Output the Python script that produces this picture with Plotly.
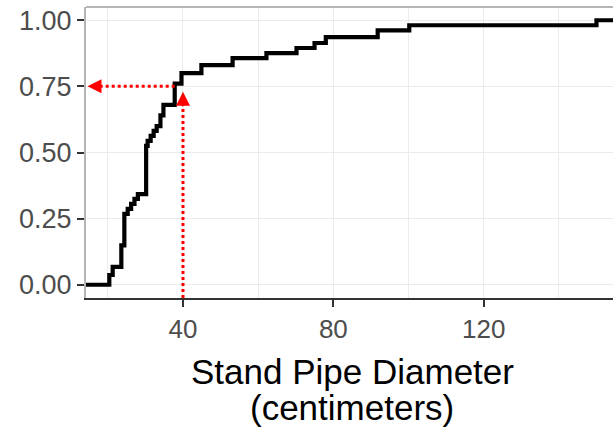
import plotly.graph_objects as go

# ECDF step locations (diameter, cm) and cumulative proportion after each step
step_x = [20.4, 21.3, 23.6, 24.4, 25.3, 26.2, 27.1, 28.0, 30.2, 30.6, 31.4, 32.2,
          33.0, 34.0, 34.8, 37.8, 39.6, 44.9, 53.2, 62.2, 70.2, 75.0, 78.0, 91.8,
          100.2, 150.0]
step_y = [0.037, 0.068, 0.149, 0.268, 0.287, 0.306, 0.325, 0.343, 0.525, 0.544,
          0.563, 0.582, 0.600, 0.640, 0.680, 0.760, 0.800, 0.830, 0.857, 0.876,
          0.895, 0.914, 0.936, 0.962, 0.981, 1.000]

x_ticks = [40, 80, 120]
x_minor = [20, 60, 100, 140]
y_ticks = [0, 0.25, 0.5, 0.75, 1.0]

x_range = [14.2, 154.4]
y_range = [-0.05, 1.05]

title_lines = ["Stand Pipe Diameter", "(centimeters)"]

# reference lookup: 75th percentile read-off
q_x = 40
q_y = 0.75
curve_x_at_q = 37.8
v_tip = 0.73

xs = [x_range[0]] + step_x + [x_range[1]]
ys = [0] + step_y + [1.0]

fig = go.Figure()
fig.add_trace(go.Scatter(x=xs, y=ys, mode="lines", line=dict(color="black", width=4.2, shape="hv"),
                         hoverinfo="skip", showlegend=False))
# dotted guide lines
fig.add_trace(go.Scatter(x=[q_x, q_x], y=[y_range[0], v_tip - 0.04], mode="lines",
                         line=dict(color="#ff0000", width=3, dash="dot"), showlegend=False))
fig.add_trace(go.Scatter(x=[curve_x_at_q, x_range[0] + 2.5], y=[q_y, q_y], mode="lines",
                         line=dict(color="#ff0000", width=3, dash="dot"), showlegend=False))

fig.add_annotation(x=q_x, y=v_tip, ax=0, ay=16, text="", showarrow=True,
                   arrowhead=2, arrowsize=1.4, arrowwidth=2, arrowcolor="#ff0000")
fig.add_annotation(x=x_range[0] + 0.4, y=q_y, ax=16, ay=0, text="", showarrow=True,
                   arrowhead=2, arrowsize=1.4, arrowwidth=2, arrowcolor="#ff0000")

# axis title as two lines, centred under the panel
title_x = 0.505
for txt, yp in zip(title_lines, [-0.252, -0.377]):
    fig.add_annotation(x=title_x, y=yp,
                       xref="paper", yref="paper", text=txt, showarrow=False,
                       xanchor="center", yanchor="middle",
                       font=dict(size=35, color="black", family="Liberation Sans, Arial, sans-serif"))

# top panel border
fig.add_shape(type="line", xref="paper", yref="paper", x0=0, x1=1, y0=1, y1=1,
              line=dict(color="#b5b5b5", width=2))

fig.update_layout(
    width=613, height=429,
    margin=dict(l=86, r=0, t=7, b=131),
    paper_bgcolor="white", plot_bgcolor="white",
    font=dict(family="Liberation Sans, Arial, sans-serif", color="#4d4d4d"),
)
fig.update_xaxes(
    range=x_range, tickvals=x_ticks, ticktext=[str(v) for v in x_ticks],
    showgrid=True, gridcolor="#ebebeb", gridwidth=1.3, zeroline=False,
    minor=dict(tickvals=x_minor, showgrid=True, gridcolor="#ebebeb", gridwidth=1.3, ticks=""),
    ticks="outside", ticklen=7, tickwidth=1.5, tickcolor="#333333",
    showline=True, linecolor="#333333", linewidth=1.8,
    tickfont=dict(size=26, color="#4d4d4d"), automargin=False,
)
fig.update_yaxes(
    range=y_range, tickvals=y_ticks, tickformat=".2f",
    showgrid=True, gridcolor="#ebebeb", gridwidth=1.3, zeroline=False,
    ticks="outside", ticklen=7, tickwidth=1.5, tickcolor="#333333",
    showline=True, linecolor="#b5b5b5", linewidth=2,
    tickfont=dict(size=27, color="#4d4d4d"), automargin=False,
)

fig.write_html("out.html", config={"displayModeBar": False},
               post_script="document.body.style.margin='0';document.body.style.overflow='hidden';")
